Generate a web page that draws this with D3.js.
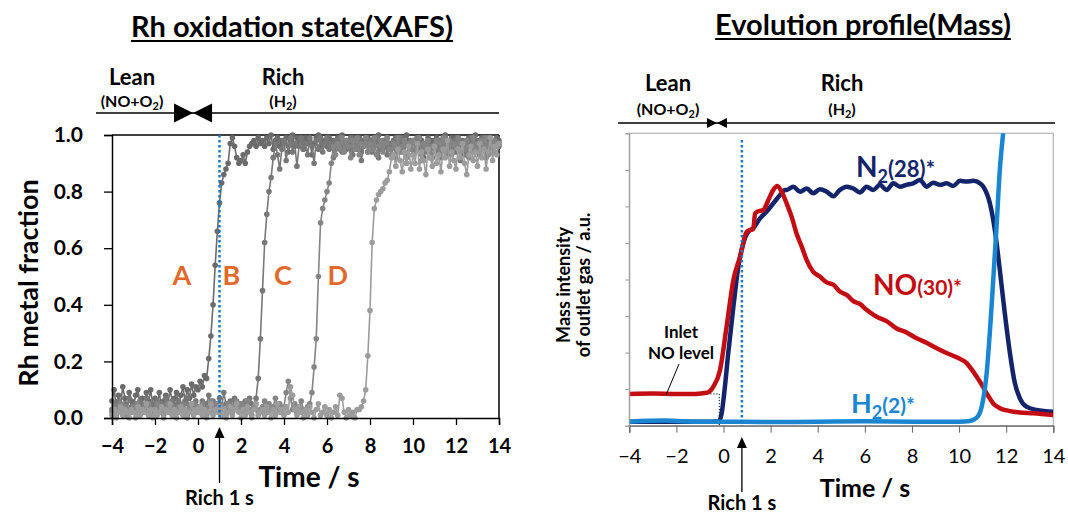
<!doctype html>
<html lang="en">
<head>
<meta charset="utf-8">
<title>Rh oxidation state (XAFS) and evolution profile (Mass)</title>
<script src="https://cdn.jsdelivr.net/npm/d3@7"></script>
<style>
  body { margin: 0; background: #fff; }
  svg { display: block; font-family: Lato, "Open Sans", sans-serif; font-weight: 700; }
</style>
</head>
<body>
<svg></svg>
<script>
var width = 1068, height = 518;

// ---------- left panel data: Rh metal fraction, one value every 0.1 s from -4 s to 14 s ----------
var xafsStart = -4, xafsStep = 0.1;
var xafsTicksX = [-4, -2, 0, 2, 4, 6, 8, 10, 12, 14];
var xafsTicksY = [0, 0.2, 0.4, 0.6, 0.8, 1.0];

var fracA = [
  0.06,0.10,0.04,0.08,0.05,0.11,0.07,0.03,0.09,0.06,
  0.04,0.08,0.10,0.05,0.07,0.03,0.09,0.06,0.10,0.04,
  0.07,0.05,0.09,0.04,0.06,0.08,0.05,0.10,0.06,0.07,
  0.09,0.05,0.08,0.11,0.06,0.10,0.07,0.12,0.08,0.11,
  0.10,0.13,0.11,0.15,0.14,0.21,0.29,0.40,0.54,0.66,
  0.76,0.83,0.86,0.88,0.90,0.97,0.99,0.96,0.92,0.90,
  0.91,0.93,0.90,0.94,0.96,0.97,0.98,0.96,0.99,0.97,
  0.98,0.96,0.99,0.97,1.00,0.95,0.98,0.99,0.96,0.98,
  0.97,0.99,0.94,0.98,1.00,0.96,0.99,0.97,0.98,0.95,
  0.99,0.97,0.98,0.93,0.97,0.99,1.00,0.96,0.98,0.97,
  0.96,0.99,0.97,0.98,0.95,0.99,0.97,1.00,0.96,0.98,
  0.97,0.95,0.99,0.98,0.96,0.99,0.94,0.98,0.97,0.99,
  0.98,0.96,0.99,0.97,1.00,0.95,0.98,0.96,0.99,0.97,
  0.96,0.98,0.99,0.94,0.97,0.99,0.96,1.00,0.98,0.95,
  0.98,0.97,0.99,0.96,0.98,0.92,0.97,0.99,0.96,0.98,
  0.97,0.99,0.95,0.98,0.96,1.00,0.97,0.94,0.99,0.97,
  0.99,0.96,0.98,0.97,0.93,0.98,0.99,0.96,0.98,1.00,
  0.97,0.95,0.99,0.98,0.96,0.99,0.97,0.94,0.98,0.99,
  0.98];

var fracB = [
  0.03,0.05,0.02,0.06,0.04,0.02,0.05,0.03,0.07,0.04,
  0.02,0.05,0.03,0.06,0.02,0.04,0.07,0.03,0.05,0.02,
  0.04,0.06,0.03,0.05,0.02,0.07,0.04,0.03,0.06,0.05,
  0.03,0.06,0.04,0.02,0.05,0.07,0.03,0.05,0.04,0.06,
  0.04,0.02,0.06,0.03,0.05,0.08,0.04,0.06,0.03,0.05,
  0.07,0.04,0.09,0.05,0.03,0.06,0.04,0.07,0.05,0.03,
  0.05,0.04,0.06,0.03,0.07,0.05,0.04,0.07,0.14,0.28,
  0.45,0.62,0.72,0.80,0.85,0.92,0.97,0.93,0.88,0.95,
  0.98,0.91,0.96,0.99,0.94,0.97,0.89,0.96,0.99,0.95,
  0.97,0.93,0.99,0.96,0.90,0.98,0.95,0.99,0.94,0.97,
  0.99,0.95,0.97,0.92,0.98,0.96,0.99,0.94,0.97,0.95,
  0.96,0.99,0.93,0.97,0.95,0.98,0.91,0.96,0.99,0.94,
  0.98,0.94,0.96,0.99,0.92,0.97,0.95,0.98,0.93,0.97,
  0.95,0.98,0.92,0.96,0.99,0.94,0.97,0.90,0.96,0.98,
  0.93,0.97,0.99,0.95,0.91,0.97,0.94,0.98,0.96,0.92,
  0.97,0.94,0.98,0.92,0.96,0.99,0.93,0.97,0.95,0.98,
  0.94,0.97,0.91,0.98,0.95,0.93,0.97,0.99,0.94,0.96,
  0.98,0.93,0.96,0.99,0.92,0.97,0.95,0.98,0.94,0.97,
  0.96];

var fracC = [
  0.02,0.04,0.01,0.03,0.05,0.02,0.04,0.01,0.03,0.02,
  0.04,0.02,0.05,0.01,0.03,0.04,0.02,0.05,0.03,0.01,
  0.03,0.05,0.02,0.04,0.01,0.03,0.05,0.02,0.04,0.03,
  0.02,0.04,0.03,0.05,0.02,0.01,0.04,0.03,0.05,0.02,
  0.04,0.02,0.05,0.03,0.01,0.04,0.06,0.02,0.03,0.05,
  0.02,0.04,0.03,0.01,0.05,0.03,0.02,0.04,0.06,0.03,
  0.05,0.02,0.04,0.06,0.03,0.01,0.04,0.05,0.02,0.03,
  0.04,0.06,0.02,0.05,0.03,0.04,0.07,0.03,0.05,0.02,
  0.04,0.09,0.13,0.07,0.03,0.05,0.02,0.04,0.06,0.03,
  0.02,0.04,0.05,0.09,0.18,0.28,0.50,0.69,0.74,0.77,
  0.80,0.83,0.90,0.96,0.93,0.97,0.95,0.99,0.94,0.98,
  0.96,0.92,0.98,0.95,0.99,0.93,0.97,0.96,0.99,0.94,
  0.97,0.95,0.99,0.93,0.96,0.98,0.94,0.97,0.99,0.95,
  0.93,0.97,0.95,0.99,0.94,0.96,0.98,0.92,0.97,0.95,
  0.98,0.94,0.96,0.99,0.93,0.97,0.95,0.98,0.92,0.96,
  0.95,0.98,0.93,0.97,0.99,0.94,0.96,0.98,0.93,0.97,
  0.96,0.99,0.94,0.97,0.95,0.98,0.92,0.96,0.99,0.95,
  0.97,0.94,0.98,0.96,0.99,0.93,0.97,0.95,0.98,0.96,
  0.97];

var fracD = [
  0.01,0.03,0.00,0.02,0.04,0.01,0.03,0.02,0.00,0.03,
  0.02,0.00,0.04,0.01,0.03,0.02,0.05,0.01,0.03,0.00,
  0.03,0.01,0.02,0.04,0.00,0.03,0.02,0.05,0.01,0.03,
  0.00,0.02,0.04,0.01,0.03,0.00,0.02,0.05,0.01,0.03,
  0.02,0.04,0.01,0.03,0.00,0.02,0.05,0.01,0.03,0.02,
  0.04,0.01,0.03,0.00,0.02,0.04,0.01,0.03,0.05,0.02,
  0.00,0.03,0.01,0.04,0.02,0.00,0.03,0.05,0.01,0.02,
  0.03,0.01,0.04,0.02,0.00,0.03,0.01,0.05,0.02,0.03,
  0.01,0.04,0.02,0.11,0.08,0.03,0.01,0.04,0.02,0.00,
  0.03,0.01,0.04,0.02,0.00,0.03,0.05,0.01,0.02,0.04,
  0.01,0.03,0.00,0.02,0.04,0.01,0.08,0.07,0.02,0.00,
  0.03,0.01,0.02,0.00,0.03,0.03,0.04,0.06,0.10,0.22,
  0.38,0.62,0.74,0.77,0.79,0.80,0.81,0.83,0.84,0.87,
  0.92,0.93,0.89,0.95,0.91,0.87,0.94,0.90,0.96,0.88,
  0.93,0.90,0.97,0.88,0.94,0.91,0.86,0.95,0.92,0.89,
  0.96,0.90,0.93,0.87,0.95,0.92,0.98,0.89,0.94,0.91,
  0.88,0.95,0.92,0.97,0.90,0.86,0.93,0.96,0.91,0.94,
  0.89,0.97,0.92,0.95,0.88,0.94,0.99,0.91,0.96,0.93,
  0.97];

var xafsSeries = [
  { name: "A", values: fracA, color: "#6b6b6b" },
  { name: "B", values: fracB, color: "#787878" },
  { name: "C", values: fracC, color: "#858585" },
  { name: "D", values: fracD, color: "#9c9c9c" }
];

// ---------- right panel data: mass signals (a.u.) ----------
var massTicksX = [-4, -2, 0, 2, 4, 6, 8, 10, 12, 14];
var massTicksY = [0, 1, 2, 3, 4, 5, 6, 7, 8];

var noTime = [-4, -3, -2, -1.2, -0.72, -0.43, -0.15, 0.13, 0.42, 0.70, 0.98, 1.12, 1.26, 1.34, 1.45, 1.69, 1.90, 2.11, 2.28,
  2.47, 2.68, 2.89, 3.10, 3.32, 3.53, 3.81, 4.09, 4.38, 4.66, 4.94, 5.23, 5.51, 5.79, 6.07, 6.50, 6.92, 7.35, 7.77,
  8.20, 8.62, 9.05, 9.47, 9.90, 10.32, 10.60, 10.89, 11.17, 11.45, 11.73, 12.16, 12.58, 13.15, 14];
var noValue = [0.87, 0.88, 0.87, 0.87, 0.90, 1.07, 1.52, 2.71, 3.99, 4.62, 5.30, 5.35, 5.38, 5.80, 5.86, 5.90, 6.17, 6.45, 6.56,
  6.40, 6.08, 5.72, 5.26, 4.90, 4.53, 4.21, 4.08, 3.92, 3.86, 3.67, 3.58, 3.41, 3.33, 3.17, 2.98, 2.86, 2.66, 2.55,
  2.39, 2.27, 2.12, 1.99, 1.87, 1.71, 1.48, 1.20, 0.89, 0.61, 0.48, 0.40, 0.36, 0.34, 0.29];

var n2Time = [-4, -2, -0.5, -0.18, -0.08, 0.06, 0.20, 0.42, 0.63, 0.84, 1.05, 1.26, 1.55, 1.83, 2.11, 2.40, 2.61,
  2.68, 2.96, 3.25, 3.53, 3.81, 4.09, 4.38, 4.66, 4.94, 5.23, 5.51, 5.79, 6.07, 6.36, 6.64, 6.92, 7.21, 7.49,
  7.77, 8.05, 8.34, 8.62, 8.90, 9.19, 9.47, 9.75, 10.04, 10.32, 10.60, 10.89,
  11.03, 11.31, 11.52, 11.73, 11.94, 12.16, 12.37, 12.58, 12.86, 13.29, 14];
var n2Value = [0.11, 0.11, 0.11, 0.12, 0.34, 1.07, 1.98, 3.26, 4.35, 4.99, 5.31, 5.40, 5.67, 5.86, 6.08, 6.31, 6.45,
  6.45, 6.54, 6.40, 6.49, 6.36, 6.47, 6.40, 6.28, 6.45, 6.54, 6.49, 6.38, 6.54, 6.45, 6.59, 6.45, 6.63, 6.54,
  6.59, 6.63, 6.72, 6.54, 6.65, 6.59, 6.63, 6.56, 6.70, 6.68, 6.70, 6.63,
  6.54, 6.08, 5.35, 4.26, 3.08, 1.98, 1.16, 0.75, 0.52, 0.43, 0.38];

var h2Time = [-4, -2.5, -1, 0, 2, 4, 6, 8, 10, 10.46, 10.75, 10.96, 11.17, 11.38, 11.59, 11.73, 11.87, 12.02];
var h2Value = [0.11, 0.14, 0.11, 0.11, 0.10, 0.11, 0.12, 0.11, 0.11, 0.13, 0.22, 0.52, 1.43, 3.26, 5.44, 7.0, 8.0, 9.0];

var massSeries = [
  { time: n2Time, values: n2Value, color: "#13246b" },
  { time: noTime, values: noValue, color: "#c30d12" },
  { time: h2Time, values: h2Value, color: "#1a86d2" }
];

var leftRichTime = 1.0, rightRichTime = 0.78;
var leftSwitchTime = -0.23, rightSwitchTime = -0.28;

var svg = d3.select("svg").attr("width", width).attr("height", height);

function underlinedTitle(x, y, label) {
  var t = svg.append("text").attr("x", x).attr("y", y).attr("text-anchor", "middle")
    .attr("font-size", 29).text(label);
  var w = t.node().getComputedTextLength();
  svg.append("line").attr("x1", x - w / 2).attr("x2", x + w / 2)
    .attr("y1", y + 4).attr("y2", y + 4).attr("stroke", "#000").attr("stroke-width", 1.8);
}

function header(xs, switchT, lineY, x0, x1, tri, leanX, richX, textY, subY) {
  svg.append("line").attr("x1", x0).attr("x2", x1).attr("y1", lineY).attr("y2", lineY)
    .attr("stroke", "#000").attr("stroke-width", 1.5);
  var sx = xs(switchT);
  svg.append("path").attr("d", "M" + (sx - tri) + "," + (lineY - tri / 2) + "L" + sx + "," + lineY + "L" + (sx - tri) + "," + (lineY + tri / 2) + "Z");
  svg.append("path").attr("d", "M" + (sx + tri) + "," + (lineY - tri / 2) + "L" + sx + "," + lineY + "L" + (sx + tri) + "," + (lineY + tri / 2) + "Z");
  svg.append("text").attr("x", leanX).attr("y", textY).attr("text-anchor", "middle").attr("font-size", 22).text("Lean");
  var s1 = svg.append("text").attr("x", leanX).attr("y", subY).attr("text-anchor", "middle").attr("font-size", 16);
  s1.append("tspan").text("(NO+O");
  s1.append("tspan").attr("font-size", 11).attr("dy", 3).text("2");
  s1.append("tspan").attr("dy", -3).text(")");
  svg.append("text").attr("x", richX).attr("y", textY).attr("text-anchor", "middle").attr("font-size", 22).text("Rich");
  var s2 = svg.append("text").attr("x", richX).attr("y", subY).attr("text-anchor", "middle").attr("font-size", 16);
  s2.append("tspan").text("(H");
  s2.append("tspan").attr("font-size", 11).attr("dy", 3).text("2");
  s2.append("tspan").attr("dy", -3).text(")");
}

function richArrow(x, tipY, endY, textY) {
  svg.append("line").attr("x1", x).attr("x2", x).attr("y1", tipY + 8).attr("y2", endY)
    .attr("stroke", "#000").attr("stroke-width", 1.3);
  svg.append("path").attr("d", "M" + x + "," + tipY + "L" + (x - 5) + "," + (tipY + 11) + "L" + (x + 5) + "," + (tipY + 11) + "Z");
  svg.append("text").attr("x", x).attr("y", textY).attr("text-anchor", "middle").attr("font-size", 20).text("Rich 1 s");
}

// ================= LEFT PANEL =================
var xL = d3.scaleLinear().domain([-4, 14]).range([112, 499]);
var yL = d3.scaleLinear().domain([0, 1]).range([418, 135]);

underlinedTitle(292, 37, "Rh oxidation state(XAFS)");
header(xL, leftSwitchTime, 113, 96, 499, 19, 132, 283, 85, 107);

svg.append("line").attr("x1", xL(-4)).attr("x2", xL(14)).attr("y1", yL(1)).attr("y2", yL(1)).attr("stroke", "#000").attr("stroke-width", 1.5);
svg.append("line").attr("x1", xL(14)).attr("x2", xL(14)).attr("y1", yL(1)).attr("y2", yL(0)).attr("stroke", "#000").attr("stroke-width", 1.5);

var lineL = d3.line()
  .x(function (d, i) { return xL(xafsStart + i * xafsStep); })
  .y(function (d) { return yL(d); });

xafsSeries.forEach(function (s) {
  var g = svg.append("g");
  g.append("path").attr("d", lineL(s.values)).attr("fill", "none")
    .attr("stroke", s.color).attr("stroke-width", 1.6);
  g.selectAll("circle").data(s.values).enter().append("circle")
    .attr("cx", function (d, i) { return xL(xafsStart + i * xafsStep); })
    .attr("cy", function (d) { return yL(d); })
    .attr("r", 2.8).attr("fill", s.color);
});

svg.append("line").attr("x1", xL(leftRichTime)).attr("x2", xL(leftRichTime))
  .attr("y1", yL(1)).attr("y2", yL(0))
  .attr("stroke", "#1b78c8").attr("stroke-width", 2.5).attr("stroke-dasharray", "2.5,2.5");

var letters = [{ t: -0.75, s: "A" }, { t: 1.55, s: "B" }, { t: 3.95, s: "C" }, { t: 6.5, s: "D" }];
svg.selectAll("text.letter").data(letters).enter().append("text").attr("class", "letter")
  .attr("x", function (d) { return xL(d.t); }).attr("y", 285)
  .attr("text-anchor", "middle").attr("font-size", 27).attr("fill", "#e2692b")
  .text(function (d) { return d.s; });

var axL = svg.append("g").attr("transform", "translate(0," + yL(0) + ")")
  .call(d3.axisBottom(xL).tickValues(xafsTicksX).tickSize(7).tickPadding(14));
var ayL = svg.append("g").attr("transform", "translate(" + xL(-4) + ",0)")
  .call(d3.axisLeft(yL).tickValues(xafsTicksY).tickFormat(d3.format(".1f")).tickSize(8).tickPadding(21));
[axL, ayL].forEach(function (a) {
  a.select(".domain").attr("stroke-width", 1.5);
  a.selectAll(".tick line").attr("stroke-width", 1.3);
  a.selectAll("text").attr("font-family", "Lato, sans-serif").attr("font-weight", 700)
    .attr("font-size", 20).attr("fill", "#000");
});
ayL.selectAll("text").attr("font-size", 21);

svg.append("text").attr("x", 309).attr("y", 487).attr("text-anchor", "middle").attr("font-size", 28).text("Time / s");
svg.append("text").attr("transform", "translate(38,283) rotate(-90)").attr("text-anchor", "middle")
  .attr("font-size", 27).text("Rh metal fraction");

richArrow(xL(leftRichTime), 427, 483, 505);

// ================= RIGHT PANEL =================
var xR = d3.scaleLinear().domain([-4, 14]).range([629.3, 1053.3]);
var yR = d3.scaleLinear().domain([0, 8]).range([425.7, 133.3]);

underlinedTitle(863, 35, "Evolution profile(Mass)");
header(xR, rightSwitchTime, 123, 618, 1055, 10, 668, 842, 91, 115);

svg.append("rect").attr("x", xR(-4)).attr("y", yR(8)).attr("width", xR(14) - xR(-4)).attr("height", yR(0) - yR(8))
  .attr("fill", "none").attr("stroke", "#b4b4b4").attr("stroke-width", 1.2);

svg.append("defs").append("clipPath").attr("id", "massClip").append("rect")
  .attr("x", xR(-4)).attr("y", yR(8)).attr("width", xR(14) - xR(-4)).attr("height", yR(0) - yR(8));

// inlet NO level guide
svg.append("path")
  .attr("d", "M" + xR(-4) + "," + yR(0.87) + "H" + xR(-0.18) + "V" + yR(0))
  .attr("fill", "none").attr("stroke", "#000").attr("stroke-width", 1).attr("stroke-dasharray", "1.2,1.8");

var lineR = d3.line().curve(d3.curveMonotoneX);
var gm = svg.append("g").attr("clip-path", "url(#massClip)");
massSeries.forEach(function (s) {
  var pts = s.time.map(function (t, i) { return [xR(t), yR(s.values[i])]; });
  gm.append("path").attr("d", lineR(pts)).attr("fill", "none")
    .attr("stroke", s.color).attr("stroke-width", 4.5).attr("stroke-linejoin", "round");
});

svg.append("line").attr("x1", xR(rightRichTime)).attr("x2", xR(rightRichTime))
  .attr("y1", 140).attr("y2", yR(0))
  .attr("stroke", "#1b78c8").attr("stroke-width", 2.5).attr("stroke-dasharray", "2.5,2.5");

var axR = svg.append("g").attr("transform", "translate(0," + yR(0) + ")")
  .call(d3.axisBottom(xR).tickValues(massTicksX).tickSize(7).tickPadding(16));
axR.select(".domain").attr("stroke", "#666").attr("stroke-width", 1.3);
axR.selectAll(".tick line").attr("stroke", "#666");
axR.selectAll("text").attr("font-family", "Lato, sans-serif").attr("font-weight", 400)
  .attr("font-size", 20).attr("fill", "#000");

var ayR = svg.append("g").attr("transform", "translate(" + xR(-4) + ",0)")
  .call(d3.axisLeft(yR).tickValues(massTicksY).tickSize(4).tickFormat(""));
ayR.select(".domain").attr("stroke", "#999");
ayR.selectAll(".tick line").attr("stroke", "#999");

svg.append("text").attr("x", 865).attr("y", 497).attr("text-anchor", "middle").attr("font-size", 25).text("Time / s");
var yt = svg.append("text").attr("transform", "translate(570,285) rotate(-90)").attr("text-anchor", "middle").attr("font-size", 18);
yt.append("tspan").attr("x", 0).attr("dy", 0).text("Mass intensity");
yt.append("tspan").attr("x", 0).attr("dy", 20).text("of outlet gas / a.u.");

richArrow(xR(rightRichTime), 437, 492, 510);

// series labels
var n2 = svg.append("text").attr("x", 856).attr("y", 177).attr("fill", "#13246b").attr("font-size", 28);
n2.append("tspan").text("N");
n2.append("tspan").attr("font-size", 18).attr("dy", 6).text("2");
n2.append("tspan").attr("font-size", 22).attr("dy", -6).text("(28)*");

var no = svg.append("text").attr("x", 873).attr("y", 295).attr("fill", "#c30d12").attr("font-size", 28);
no.append("tspan").text("NO");
no.append("tspan").attr("font-size", 21).text("(30)*");

var h2 = svg.append("text").attr("x", 851).attr("y", 413).attr("fill", "#1a86d2").attr("font-size", 27);
h2.append("tspan").text("H");
h2.append("tspan").attr("font-size", 18).attr("dy", 6).text("2");
h2.append("tspan").attr("font-size", 21).attr("dy", -6).text("(2)*");

svg.append("text").attr("x", 681).attr("y", 338).attr("text-anchor", "middle").attr("font-size", 17).text("Inlet");
svg.append("text").attr("x", 681).attr("y", 359).attr("text-anchor", "middle").attr("font-size", 17).text("NO level");
svg.append("line").attr("x1", 679).attr("y1", 364).attr("x2", 666).attr("y2", 395)
  .attr("stroke", "#000").attr("stroke-width", 1);
</script>
</body>
</html>
